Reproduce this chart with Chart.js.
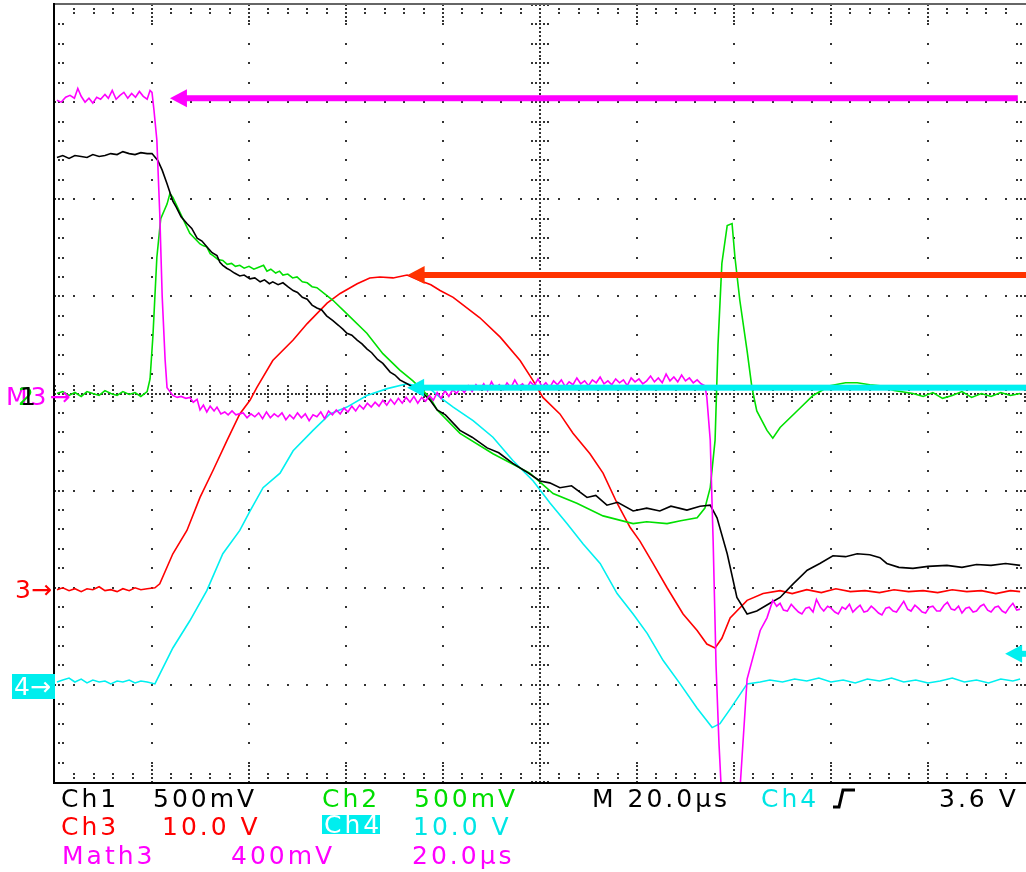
<!DOCTYPE html>
<html>
<head>
<meta charset="utf-8">
<script src="https://cdn.jsdelivr.net/npm/chart.js@4.4.0/dist/chart.umd.min.js"></script>
<style>
  body { margin: 0; background: #fff; }
  #wrap { position: relative; width: 1026px; height: 872px; overflow: hidden; }
  #scope { position: absolute; left: 0; top: 0; }
  .txt { position: absolute; font-family: "DejaVu Sans", sans-serif; font-size: 25px; line-height: 25px; letter-spacing: 3px; white-space: pre; }
  .box { position: absolute; background: #00eeee; color: #fff; font-family: "DejaVu Sans", sans-serif; font-size: 25px; white-space: pre; letter-spacing: 3px; }
</style>
</head>
<body>
<div id="wrap">
  <canvas id="scope" width="1026" height="872"></canvas>

  <!-- ground markers -->
  <span class="txt" style="left:6px;top:384px;color:#ff00ff">M3→</span>
  <span class="txt" style="left:18px;top:384px;color:#00dd00;letter-spacing:0">2</span>
  <span class="txt" style="left:20px;top:384px;color:#000;letter-spacing:0">1</span>
  <span class="txt" style="left:15px;top:577px;color:#ff0000;letter-spacing:0">3→</span>
  <div class="box" style="left:12px;top:674px;width:43px;height:25px;line-height:25px;padding-left:2px;box-sizing:border-box;letter-spacing:0">4→</div>

  <!-- readout -->
  <span class="txt" style="left:61px;top:786px;color:#000">Ch1</span>
  <span class="txt" style="left:153px;top:786px;color:#000">500mV</span>
  <span class="txt" style="left:322px;top:786px;color:#00dd00">Ch2</span>
  <span class="txt" style="left:414px;top:786px;color:#00dd00">500mV</span>
  <span class="txt" style="left:592px;top:786px;color:#000">M 20.0µs</span>
  <span class="txt" style="left:761px;top:786px;color:#00e5e5">Ch4</span>
  <svg style="position:absolute;left:830px;top:787px" width="28" height="24">
    <path d="M3 20 H9 L13 3 H25" fill="none" stroke="#000" stroke-width="3"/>
  </svg>
  <span class="txt" style="left:939px;top:786px;color:#000">3.6 V</span>

  <span class="txt" style="left:61px;top:814px;color:#ff0000">Ch3</span>
  <span class="txt" style="left:162px;top:814px;color:#ff0000">10.0 V</span>
  <div class="box" style="left:322px;top:815px;width:58px;height:19px;line-height:19px;padding-left:2px;box-sizing:border-box">Ch4</div>
  <span class="txt" style="left:413px;top:814px;color:#00e5e5">10.0 V</span>

  <span class="txt" style="left:62px;top:843px;color:#ff00ff">Math3</span>
  <span class="txt" style="left:231px;top:843px;color:#ff00ff">400mV</span>
  <span class="txt" style="left:412px;top:843px;color:#ff00ff">20.0µs</span>
</div>

<script>
// time in µs (20 µs/div, 10 div), amplitude in screen divisions (-4..4)
const ch1 = [
  [0.4, 2.43], [1.6, 2.45], [2.9, 2.42], [4.1, 2.45], [5.4, 2.44], [6.6, 2.43], [7.8, 2.46], [9.1, 2.44],
  [10.3, 2.45], [11.5, 2.47], [12.8, 2.46], [14.0, 2.49], [15.3, 2.47], [16.5, 2.46], [17.7, 2.48], [19.0, 2.47],
  [20.0, 2.47], [21.2, 2.40], [22.1, 2.30], [23.1, 2.16], [24.3, 1.98], [25.0, 1.92], [26.0, 1.82], [27.2, 1.75],
  [28.2, 1.70], [29.3, 1.60], [30.3, 1.57], [31.3, 1.51], [32.4, 1.45], [33.4, 1.42], [34.0, 1.35], [34.6, 1.32],
  [35.4, 1.29], [36.1, 1.27], [37.0, 1.24], [38.1, 1.21], [39.0, 1.22], [40.2, 1.18], [41.2, 1.19], [42.3, 1.15],
  [43.2, 1.17], [44.2, 1.13], [44.9, 1.15], [46.0, 1.12], [47.0, 1.14], [48.0, 1.10], [49.1, 1.06], [50.0, 1.04],
  [51.0, 0.99], [52.0, 0.97], [53.0, 0.91], [54.0, 0.88], [55.0, 0.86], [56.0, 0.80], [57.3, 0.75], [58.5, 0.70],
  [59.4, 0.66], [60.2, 0.62], [61.2, 0.60], [62.3, 0.55], [63.3, 0.51], [64.3, 0.46], [65.3, 0.42], [66.5, 0.35],
  [67.6, 0.31], [69.1, 0.22], [70.1, 0.19], [71.1, 0.14], [72.6, 0.10], [74.0, 0.06], [75.9, 0.00], [77.2, -0.06],
  [78.8, -0.17], [80.5, -0.22], [83.5, -0.38], [86.0, -0.45], [89.1, -0.56], [91.5, -0.61], [94.4, -0.72],
  [97.0, -0.80], [100.0, -0.90], [102.0, -0.92], [104.1, -0.97], [106.5, -0.95], [109.7, -1.07], [111.5, -1.05],
  [113.8, -1.15], [116.0, -1.12], [119.2, -1.21], [122.0, -1.18], [124.7, -1.21], [127.0, -1.16], [130.3, -1.20],
  [133.0, -1.16], [135.1, -1.15], [136.5, -1.28], [138.6, -1.65], [140.6, -2.10], [142.7, -2.27], [144.7, -2.24],
  [147.4, -2.16], [149.5, -2.10], [152.2, -1.96], [155.1, -1.82], [157.7, -1.75], [160.4, -1.67], [163.0, -1.68],
  [165.4, -1.65], [168.0, -1.66], [170.1, -1.69], [171.5, -1.75], [174.0, -1.79], [176.9, -1.80], [180.0, -1.78],
  [183.9, -1.77], [187.0, -1.79], [190.0, -1.76], [193.0, -1.77], [196.0, -1.75], [199.0, -1.77]
];

const ch2 = [
  [0.4, 0.00], [1.6, 0.02], [2.9, -0.02], [4.1, 0.01], [5.4, -0.03], [6.6, 0.02], [7.8, 0.00], [9.1, -0.02],
  [10.3, 0.03], [11.5, 0.00], [12.8, -0.02], [14.0, 0.02], [15.3, -0.01], [16.5, 0.01], [17.7, -0.03], [19.0, 0.02],
  [19.6, 0.15], [20.2, 0.60], [21.0, 1.40], [21.8, 1.80], [23.1, 1.95], [23.7, 2.06], [24.3, 2.02], [25.8, 1.86],
  [27.8, 1.65], [29.9, 1.54], [30.6, 1.52], [31.3, 1.51], [32.0, 1.44], [32.6, 1.42], [33.6, 1.38], [34.6, 1.37],
  [35.5, 1.33], [36.4, 1.34], [37.2, 1.31], [38.1, 1.32], [39.0, 1.29], [40.0, 1.31], [41.0, 1.28], [42.0, 1.30],
  [43.0, 1.32], [43.7, 1.26], [44.5, 1.28], [45.5, 1.24], [46.3, 1.26], [47.0, 1.22], [48.0, 1.23], [49.0, 1.19],
  [49.9, 1.20], [51.0, 1.15], [52.0, 1.14], [53.0, 1.10], [54.0, 1.09], [57.3, 0.96], [60.2, 0.82], [64.3, 0.62],
  [67.6, 0.41], [71.1, 0.24], [73.8, 0.13], [77.3, -0.04], [78.8, -0.17], [83.5, -0.41], [90.3, -0.62],
  [97.9, -0.82], [102.7, -1.03], [107.6, -1.13], [113.0, -1.26], [119.2, -1.34], [122.0, -1.32], [126.2, -1.34],
  [129.0, -1.31], [132.4, -1.28], [134.0, -1.18], [135.1, -0.97], [136.1, -0.48], [136.7, 0.50], [137.5, 1.34],
  [138.6, 1.73], [139.6, 1.75], [140.2, 1.40], [141.2, 0.96], [142.7, 0.44], [143.7, 0.06], [144.7, -0.18],
  [146.8, -0.38], [148.0, -0.46], [149.5, -0.35], [153.0, -0.18], [156.3, -0.02], [159.8, 0.08], [163.0, 0.11],
  [165.4, 0.11], [168.0, 0.09], [170.1, 0.08], [173.0, 0.03], [176.9, 0.00], [179.0, -0.03], [181.0, 0.01],
  [183.0, -0.05], [185.0, -0.02], [187.0, 0.02], [189.0, -0.04], [191.0, 0.00], [193.0, -0.03], [195.0, 0.01],
  [197.0, -0.02], [199.0, 0.00]
];

const ch3 = [
  [0.4, -2.02], [1.6, -2.00], [2.9, -2.03], [4.1, -2.01], [5.4, -2.04], [6.6, -2.01], [7.8, -2.02], [9.1, -1.99],
  [10.3, -2.03], [11.5, -2.02], [12.8, -2.04], [14.0, -2.01], [15.3, -2.03], [16.5, -2.00], [17.7, -2.02],
  [19.0, -2.01], [20.6, -2.00], [21.6, -1.96], [24.3, -1.65], [27.2, -1.41], [29.9, -1.07], [32.6, -0.79],
  [35.5, -0.48], [38.1, -0.21], [40.2, -0.07], [41.6, 0.06], [44.9, 0.34], [49.1, 0.55], [52.0, 0.72], [56.1, 0.93],
  [58.8, 1.03], [62.3, 1.13], [64.9, 1.19], [67.0, 1.20], [69.7, 1.19], [72.6, 1.22], [75.3, 1.16], [77.5, 1.12],
  [79.4, 1.06], [82.1, 0.99], [87.6, 0.78], [91.8, 0.58], [95.9, 0.34], [98.6, 0.13], [100.6, -0.04], [104.1, -0.21],
  [106.8, -0.41], [110.3, -0.62], [113.0, -0.82], [115.9, -1.13], [118.6, -1.38], [120.6, -1.52], [123.3, -1.75],
  [126.2, -2.00], [129.5, -2.27], [132.4, -2.44], [134.4, -2.58], [136.1, -2.62], [137.5, -2.52], [139.2, -2.31],
  [142.7, -2.13], [146.0, -2.06], [149.5, -2.03], [152.0, -2.06], [155.0, -2.02], [158.0, -2.05], [161.0, -2.01],
  [164.0, -2.04], [167.0, -2.03], [170.0, -2.05], [173.0, -2.02], [176.0, -2.04], [179.0, -2.03], [182.0, -2.05],
  [185.0, -2.02], [188.0, -2.04], [191.0, -2.03], [194.0, -2.06], [197.0, -2.03], [199.0, -2.04]
];

const ch4 = [
  [0.4, -2.97], [1.6, -2.95], [2.9, -2.93], [4.1, -2.97], [5.4, -2.94], [6.6, -2.98], [7.8, -2.95], [9.1, -2.97],
  [10.3, -2.96], [11.5, -2.99], [12.8, -2.96], [14.0, -2.97], [15.3, -2.95], [16.5, -2.98], [17.7, -2.96],
  [19.0, -2.97], [20.6, -2.99], [21.6, -2.89], [24.3, -2.62], [27.8, -2.34], [31.3, -2.03], [34.6, -1.65],
  [38.1, -1.41], [40.2, -1.21], [42.9, -0.97], [46.4, -0.82], [49.1, -0.59], [53.2, -0.38], [56.7, -0.21],
  [60.2, -0.14], [64.3, -0.02], [68.5, 0.05], [72.6, 0.10], [75.3, 0.07], [77.3, 0.05], [79.4, -0.04], [82.1, -0.14],
  [86.2, -0.28], [90.3, -0.45], [94.4, -0.69], [98.6, -0.90], [102.1, -1.13], [105.6, -1.34], [108.9, -1.55],
  [112.4, -1.75], [115.9, -2.06], [119.2, -2.27], [122.1, -2.47], [125.4, -2.75], [128.9, -2.99], [132.4, -3.24],
  [135.5, -3.44], [137.1, -3.40], [139.2, -3.25], [142.7, -2.99], [145.4, -2.97], [147.4, -2.95], [150.0, -2.97],
  [152.5, -2.94], [155.0, -2.96], [157.5, -2.93], [160.0, -2.97], [162.5, -2.95], [165.0, -2.98], [167.5, -2.94],
  [170.0, -2.96], [172.5, -2.93], [175.0, -2.97], [177.5, -2.95], [180.0, -2.98], [182.5, -2.96], [185.0, -2.93],
  [187.5, -2.97], [190.0, -2.95], [192.5, -2.98], [195.0, -2.94], [197.5, -2.96], [199.0, -2.94]
];

const math3 = [
  [0.4, 3.02], [1.3, 3.00], [2.2, 3.05], [3.1, 3.07], [4.0, 3.04], [4.7, 3.14], [5.4, 3.06], [6.2, 3.00],
  [7.0, 3.04], [7.8, 2.99], [8.6, 3.05], [9.4, 3.03], [10.3, 3.08], [11.0, 3.04], [11.8, 3.12], [12.6, 3.03],
  [13.4, 3.07], [14.2, 3.10], [15.0, 3.04], [15.8, 3.09], [16.6, 3.05], [17.4, 3.11], [18.2, 3.06], [19.0, 3.03],
  [19.6, 3.12], [20.0, 3.10], [20.4, 2.92], [21.0, 2.61], [21.6, 1.85], [22.1, 1.00], [22.7, 0.35], [23.1, 0.06],
  [24.3, -0.02], [25.2, -0.04], [26.0, -0.03], [27.0, -0.05], [27.8, -0.04], [28.5, -0.09], [29.3, -0.06],
  [29.9, -0.17], [30.6, -0.12], [31.3, -0.19], [32.0, -0.13], [32.8, -0.18], [33.4, -0.14], [34.2, -0.21],
  [35.0, -0.19], [35.7, -0.22], [36.5, -0.18], [37.3, -0.22], [38.0, -0.21], [38.8, -0.20], [39.6, -0.25],
  [40.4, -0.21], [41.2, -0.24], [42.0, -0.20], [42.8, -0.26], [43.6, -0.19], [44.4, -0.25], [45.2, -0.21],
  [46.0, -0.24], [46.8, -0.20], [47.6, -0.27], [48.4, -0.22], [49.2, -0.26], [50.0, -0.20], [50.8, -0.25],
  [51.6, -0.21], [52.4, -0.28], [53.2, -0.22], [54.0, -0.24], [54.8, -0.19], [55.6, -0.26], [56.4, -0.18],
  [57.2, -0.22], [58.0, -0.17], [58.8, -0.21], [59.6, -0.15], [60.4, -0.19], [61.2, -0.13], [62.0, -0.18],
  [62.8, -0.12], [63.6, -0.16], [64.4, -0.10], [65.2, -0.14], [66.0, -0.09], [66.8, -0.13], [67.6, -0.07],
  [68.4, -0.12], [69.2, -0.06], [70.0, -0.11], [70.8, -0.05], [71.6, -0.10], [72.4, -0.04], [73.2, -0.09],
  [74.0, -0.03], [74.8, -0.10], [75.6, -0.04], [76.4, -0.08], [77.2, -0.02], [78.0, -0.07], [78.8, 0.01],
  [79.6, -0.05], [80.4, 0.03], [81.2, -0.03], [82.0, 0.04], [82.8, 0.00], [83.6, 0.06], [84.4, 0.01], [85.2, 0.08],
  [86.0, 0.02], [86.8, 0.09], [87.6, 0.04], [88.4, 0.10], [89.2, 0.03], [90.0, 0.12], [90.8, 0.05], [91.6, 0.09],
  [92.4, 0.04], [93.2, 0.11], [94.0, 0.06], [94.8, 0.14], [95.6, 0.07], [96.4, 0.10], [97.2, 0.05], [98.0, 0.12],
  [98.8, 0.08], [99.6, 0.15], [100.4, 0.07], [101.2, 0.11], [102.0, 0.06], [102.8, 0.13], [103.6, 0.09],
  [104.4, 0.14], [105.2, 0.07], [106.0, 0.12], [106.8, 0.09], [107.6, 0.16], [108.4, 0.10], [109.2, 0.13],
  [110.0, 0.08], [110.8, 0.14], [111.6, 0.11], [112.4, 0.17], [113.2, 0.10], [114.0, 0.13], [114.8, 0.09],
  [115.6, 0.15], [116.4, 0.11], [117.2, 0.14], [118.0, 0.08], [118.8, 0.16], [119.6, 0.12], [120.4, 0.15],
  [121.2, 0.10], [122.0, 0.13], [122.8, 0.18], [123.6, 0.12], [124.4, 0.16], [125.2, 0.11], [126.0, 0.20],
  [126.8, 0.13], [127.6, 0.17], [128.4, 0.12], [129.2, 0.19], [130.0, 0.13], [130.8, 0.16], [131.6, 0.11],
  [132.4, 0.14], [133.2, 0.10], [134.0, 0.08], [134.4, -0.04], [135.1, -0.48], [135.7, -1.52], [136.3, -2.80],
  [136.9, -3.60], [137.5, -4.20], [138.0, -4.60], [140.6, -4.60], [141.2, -4.10], [142.7, -2.94], [145.4, -2.44],
  [146.8, -2.31], [148.0, -2.13], [148.8, -2.19], [149.5, -2.16], [150.2, -2.23], [151.0, -2.24], [151.8, -2.17],
  [152.5, -2.21], [153.3, -2.25], [154.0, -2.27], [154.8, -2.21], [155.5, -2.20], [156.3, -2.25], [157.0, -2.12],
  [157.8, -2.20], [158.5, -2.24], [159.3, -2.19], [160.0, -2.21], [160.8, -2.25], [161.5, -2.27], [162.3, -2.20],
  [163.0, -2.22], [163.8, -2.17], [164.5, -2.25], [165.3, -2.21], [166.0, -2.18], [166.8, -2.25], [167.5, -2.24],
  [168.3, -2.19], [169.0, -2.22], [169.8, -2.26], [170.5, -2.28], [171.3, -2.21], [172.0, -2.20], [172.8, -2.24],
  [173.5, -2.25], [174.3, -2.19], [175.0, -2.14], [175.8, -2.22], [176.5, -2.24], [177.3, -2.18], [178.0, -2.21],
  [178.8, -2.25], [179.5, -2.26], [180.3, -2.20], [181.0, -2.19], [181.8, -2.24], [182.5, -2.24], [183.3, -2.18],
  [184.0, -2.15], [184.8, -2.22], [185.5, -2.23], [186.3, -2.19], [187.0, -2.26], [187.8, -2.21], [188.5, -2.20],
  [189.3, -2.25], [190.0, -2.24], [190.8, -2.19], [191.5, -2.17], [192.3, -2.23], [193.0, -2.25], [193.8, -2.20],
  [194.5, -2.19], [195.3, -2.24], [196.0, -2.26], [196.8, -2.20], [197.5, -2.16], [198.3, -2.23], [199.0, -2.22]
];

// reference level cursors (arrows)
const cursorLevel = [3.04, 1.22, 0.06, -2.68];
const cursorStart = [23.7, 72.7, 72.6, 195.9];
const cursorEnd = [198.1, 200, 200, 200];
const cursorColor = ['#ff00ff', '#ff3300', '#00f0f0', '#00f0f0'];

const divX = 20;    // µs per division
const divsX = 10;
const divsY = 4;

const toXY = (pts) => pts.map(([t, v]) => ({ x: t, y: v }));

const scopeGrid = {
  id: 'scopeGrid',
  beforeDatasetsDraw(chart) {
    const { ctx, chartArea: a, scales: { x, y } } = chart;
    const dot = (t, v) => ctx.fillRect(Math.round(x.getPixelForValue(t)) - 1, Math.round(y.getPixelForValue(v)) - 1, 2, 2);
    ctx.save();
    ctx.fillStyle = '#333';

    // dotted division lines
    for (let i = 1; i < divsX; i++) {
      if (i === divsX / 2) continue;
      for (let j = 0; j <= divsY * 10; j++) dot(i * divX, -divsY + j * 0.2);
    }
    for (let v = -divsY + 1; v < divsY; v++) {
      if (v === 0) continue;
      for (let j = 0; j <= divsX * 5; j++) dot(j * divX / 5, v);
    }

    // centre cross, denser with small ticks
    const cx = divX * divsX / 2;
    const sub = divX / 25;
    for (let j = 0; j <= divsY * 50; j++) dot(cx, -divsY + j * 0.04);
    for (let j = 0; j <= divsX * 25; j++) dot(j * sub, 0);
    for (let j = 0; j <= divsY * 10; j++) {
      for (let k = -2; k <= 2; k++) dot(cx + k * sub, -divsY + j * 0.2);
    }
    for (let j = 0; j <= divsX * 5; j++) {
      for (let k = -2; k <= 2; k++) dot(j * divX / 5, k * 0.04);
    }

    // ticks along the frame
    for (let j = 1; j < divsX * 5; j++) {
      const t = j * divX / 5;
      const n = j % 5 === 0 ? 4 : 2;
      for (let k = 1; k <= n; k++) {
        dot(t, divsY - k * 0.04);
        dot(t, -divsY + k * 0.04);
      }
    }
    for (let j = 1; j < divsY * 10; j++) {
      const v = -divsY + j * 0.2;
      for (let k = 1; k <= 2; k++) {
        dot(k * sub, v);
        dot(divX * divsX - k * sub, v);
      }
    }

    // frame lines
    ctx.fillStyle = '#666';
    ctx.fillRect(a.left, a.top - 2, a.right - a.left + 1, 2);
    ctx.fillStyle = '#000';
    ctx.fillRect(a.left - 2, a.top - 2, 2, a.bottom - a.top + 4);
    ctx.fillRect(a.left - 2, a.bottom, a.right - a.left + 3, 2);
    ctx.restore();
  },
  afterDatasetsDraw(chart) {
    const { ctx, scales: { x, y } } = chart;
    ctx.save();
    cursorLevel.forEach((lvl, i) => {
      const py = y.getPixelForValue(lvl);
      const x0 = x.getPixelForValue(cursorStart[i]);
      const x1 = x.getPixelForValue(cursorEnd[i]) + 2;
      ctx.fillStyle = cursorColor[i];
      ctx.fillRect(x0 + 12, py - 3, Math.max(x1 - x0 - 12, 4), 6);
      ctx.beginPath();
      ctx.moveTo(x0, py);
      ctx.lineTo(x0 + 17, py - 9);
      ctx.lineTo(x0 + 17, py + 9);
      ctx.closePath();
      ctx.fill();
    });
    ctx.restore();
  }
};

new Chart(document.getElementById('scope'), {
  type: 'line',
  data: {
    datasets: [
      { label: 'Math3', data: toXY(math3), borderColor: '#ff00ff' },
      { label: 'Ch1', data: toXY(ch1), borderColor: '#000000' },
      { label: 'Ch2', data: toXY(ch2), borderColor: '#00e000' },
      { label: 'Ch3', data: toXY(ch3), borderColor: '#ff0000' },
      { label: 'Ch4', data: toXY(ch4), borderColor: '#00f0f0' }
    ]
  },
  options: {
    responsive: false,
    animation: false,
    events: [],
    layout: { padding: { left: 55, right: 1, top: 5, bottom: 90 } },
    elements: {
      point: { radius: 0 },
      line: { borderWidth: 1.6, tension: 0, fill: false }
    },
    datasets: { line: { clip: 0 } },
    plugins: { legend: { display: false }, tooltip: { enabled: false } },
    scales: {
      x: { type: 'linear', min: 0, max: divX * divsX, display: false },
      y: { type: 'linear', min: -divsY, max: divsY, display: false }
    }
  },
  plugins: [scopeGrid]
});
</script>
</body>
</html>
